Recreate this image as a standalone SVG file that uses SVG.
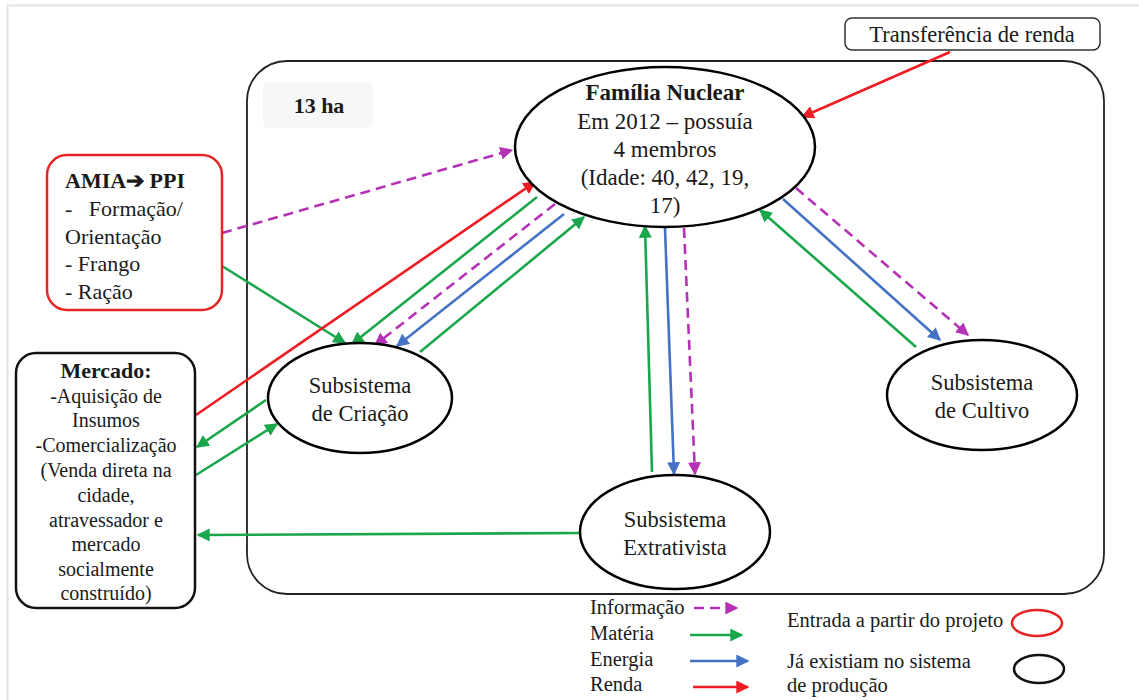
<svg xmlns="http://www.w3.org/2000/svg" width="1139" height="700" viewBox="0 0 1139 700">
<defs>
<style>
text{font-family:"Liberation Serif","Times New Roman",serif;fill:#1a1a1a}
.b{font-weight:bold}
.node{fill:#fff;stroke:#000;stroke-width:2.5}
.g{stroke:#1aa64b;stroke-width:2.6;fill:none}
.u{stroke:#4472c4;stroke-width:2.6;fill:none}
.r{stroke:#ee1c25;stroke-width:2.6;fill:none}
.m{stroke:#b531b5;stroke-width:2.6;fill:none;stroke-dasharray:10 6}
</style>
<marker id="ag" viewBox="0 0 10 10" refX="9" refY="5" markerWidth="5" markerHeight="5" orient="auto" markerUnits="strokeWidth"><path d="M0,0L10,5L0,10z" fill="#1aa64b"/></marker>
<marker id="au" viewBox="0 0 10 10" refX="9" refY="5" markerWidth="5" markerHeight="5" orient="auto" markerUnits="strokeWidth"><path d="M0,0L10,5L0,10z" fill="#4472c4"/></marker>
<marker id="ar" viewBox="0 0 10 10" refX="9" refY="5" markerWidth="5" markerHeight="5" orient="auto" markerUnits="strokeWidth"><path d="M0,0L10,5L0,10z" fill="#ee1c25"/></marker>
<marker id="am" viewBox="0 0 10 10" refX="9" refY="5" markerWidth="5" markerHeight="5" orient="auto" markerUnits="strokeWidth"><path d="M0,0L10,5L0,10z" fill="#b531b5"/></marker>
</defs>
<rect width="1139" height="700" fill="#fff"/>
<path d="M7.5,700V5.5H1139" fill="none" stroke="#e4e4e4" stroke-width="2"/>

<g id="area13ha">
<rect x="247" y="61" width="857" height="533" rx="40" fill="none" stroke="#222" stroke-width="1.8"/>
<rect x="263" y="82" width="110" height="46" rx="6" fill="#f7f7f7"/>
<text x="319" y="113" font-size="22" text-anchor="middle" class="b">13 ha</text>
</g>

<g id="connectors">
<line class="r" x1="950" y1="52" x2="802" y2="117" marker-end="url(#ar)"/>
<line class="m" x1="222" y1="233" x2="512" y2="150" marker-end="url(#am)"/>
<line class="g" x1="222" y1="266" x2="345" y2="343" marker-end="url(#ag)"/>
<line class="r" x1="196" y1="415" x2="535" y2="182" marker-end="url(#ar)"/>
<line class="g" x1="537" y1="197" x2="352" y2="344" marker-end="url(#ag)"/>
<line class="m" x1="555" y1="204" x2="375" y2="345" marker-end="url(#am)"/>
<line class="u" x1="564" y1="214" x2="397" y2="346" marker-end="url(#au)"/>
<line class="g" x1="420" y1="352" x2="584" y2="217" marker-end="url(#ag)"/>
<line class="g" x1="266" y1="400" x2="197" y2="447" marker-end="url(#ag)"/>
<line class="g" x1="196" y1="475" x2="277" y2="424" marker-end="url(#ag)"/>
<line class="g" x1="580" y1="533" x2="198" y2="535" marker-end="url(#ag)"/>
<line class="g" x1="652" y1="472" x2="645" y2="226" marker-end="url(#ag)"/>
<line class="u" x1="665" y1="228" x2="674" y2="474" marker-end="url(#au)"/>
<line class="m" x1="684" y1="228" x2="695" y2="474" marker-end="url(#am)"/>
<line class="g" x1="916" y1="347" x2="760" y2="210" marker-end="url(#ag)"/>
<line class="u" x1="783" y1="199" x2="940" y2="340" marker-end="url(#au)"/>
<line class="m" x1="796" y1="188" x2="968" y2="335" marker-end="url(#am)"/>
</g>

<g id="transferencia">
<rect x="845" y="18" width="255" height="32" rx="7" fill="#fff" stroke="#333" stroke-width="1.5"/>
<text x="972" y="42" font-size="22.5" text-anchor="middle">Transferência de renda</text>
</g>

<g id="familia">
<ellipse class="node" cx="665" cy="147" rx="150" ry="80"/>
<text x="665" y="100" font-size="23" text-anchor="middle" class="b">Família Nuclear</text>
<text x="665" y="129" font-size="23" text-anchor="middle">Em 2012 – possuía</text>
<text x="665" y="157" font-size="23" text-anchor="middle">4 membros</text>
<text x="665" y="185" font-size="23" text-anchor="middle">(Idade: 40, 42, 19,</text>
<text x="665" y="213" font-size="23" text-anchor="middle">17)</text>
</g>

<g id="amia">
<rect x="47" y="155" width="175" height="155" rx="20" fill="#fff" stroke="#e52424" stroke-width="2.5"/>
<text x="65" y="188" font-size="22" class="b">AMIA➔ PPI</text>
<text x="65" y="216" font-size="22" xml:space="preserve">-   Formação/</text>
<text x="65" y="244" font-size="22">Orientação</text>
<text x="65" y="271" font-size="22">- Frango</text>
<text x="65" y="299" font-size="22">- Ração</text>
</g>

<g id="mercado">
<rect x="16" y="353" width="179" height="255" rx="20" fill="#fff" stroke="#111" stroke-width="2.5"/>
<g font-size="20" text-anchor="middle">
<text x="106" y="378" class="b" font-size="22">Mercado:</text>
<text x="106" y="403">-Aquisição de</text>
<text x="106" y="427">Insumos</text>
<text x="106" y="452">-Comercialização</text>
<text x="106" y="477">(Venda direta na</text>
<text x="106" y="502">cidade,</text>
<text x="106" y="527">atravessador e</text>
<text x="106" y="551">mercado</text>
<text x="106" y="576">socialmente</text>
<text x="106" y="600">construído)</text>
</g>
</g>

<g id="criacao">
<ellipse class="node" cx="360" cy="398" rx="92" ry="55"/>
<text x="360" y="393" font-size="22.5" text-anchor="middle">Subsistema</text>
<text x="360" y="421" font-size="22.5" text-anchor="middle">de Criação</text>
</g>

<g id="cultivo">
<ellipse class="node" cx="982" cy="395" rx="95" ry="55"/>
<text x="982" y="390" font-size="22.5" text-anchor="middle">Subsistema</text>
<text x="982" y="418" font-size="22.5" text-anchor="middle">de Cultivo</text>
</g>

<g id="extrativista">
<ellipse class="node" cx="675" cy="532" rx="95" ry="57"/>
<text x="675" y="527" font-size="22.5" text-anchor="middle">Subsistema</text>
<text x="675" y="555" font-size="22.5" text-anchor="middle">Extrativista</text>
</g>

<g id="legend">
<g font-size="20.5">
<text x="590" y="614">Informação</text>
<text x="590" y="640">Matéria</text>
<text x="590" y="666">Energia</text>
<text x="590" y="691">Renda</text>
<text x="787" y="627">Entrada a partir do projeto</text>
<text x="787" y="668">Já existiam no sistema</text>
<text x="787" y="692">de produção</text>
</g>
<line class="m" x1="694" y1="608" x2="737" y2="608" stroke-dasharray="8 5" marker-end="url(#am)"/>
<line class="g" x1="690" y1="635" x2="742" y2="635" marker-end="url(#ag)"/>
<line class="u" x1="690" y1="661" x2="748" y2="661" marker-end="url(#au)"/>
<line class="r" x1="693" y1="687" x2="748" y2="687" marker-end="url(#ar)"/>
<ellipse cx="1037" cy="623" rx="25" ry="13" fill="none" stroke="#e52424" stroke-width="2.5"/>
<ellipse cx="1039" cy="669" rx="25" ry="14" fill="none" stroke="#111" stroke-width="2.5"/>
</g>
</svg>
